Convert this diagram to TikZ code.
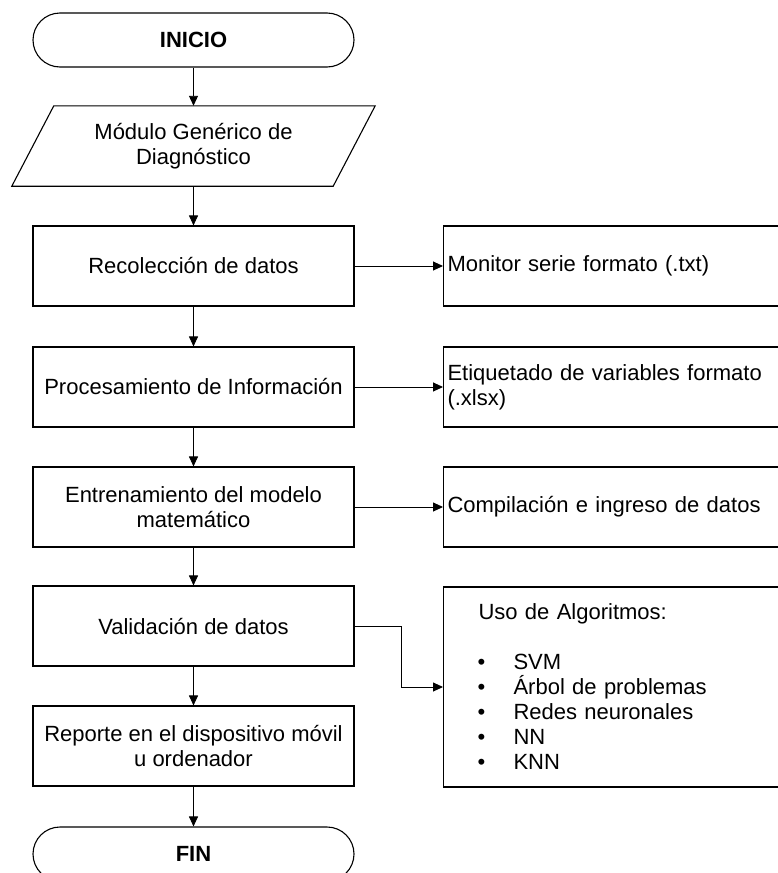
\documentclass[tikz,border=0pt]{standalone}
\usepackage{fontspec}
\setmainfont{Liberation Sans}
\usetikzlibrary{arrows.meta}

\begin{document}
\begin{tikzpicture}[
  x=1pt, y=-1pt,
  font=\fontsize{22pt}{25pt}\selectfont,
  proc/.style={draw, line width=1.1pt, minimum width=321pt, minimum height=80pt,
    align=center, inner sep=2pt},
  term/.style={proc, minimum height=54pt, rounded corners=27pt, font=\fontsize{22pt}{25pt}\selectfont\bfseries},
  io/.style={minimum width=321pt, minimum height=80pt, align=center, inner sep=2pt},
  side/.style={draw, line width=1.1pt, anchor=west, minimum height=80pt,
    text width=336pt, inner xsep=4pt, align=left},
  arr/.style={line width=0.9pt, -{Triangle[length=10pt, width=9pt]}}
]
\useasboundingbox (0,0) rectangle (778,873);
\clip (0,0) rectangle (778,873);

% flujo principal
\node[term] (ini) at (193.5,40) {INICIO};
\node[io] (mod) at (193.5,146) {Módulo Genérico de\\ Diagnóstico};
\draw[line width=1.1pt] ([xshift=21pt]mod.north west) -- ([xshift=21pt]mod.north east)
  -- ([xshift=-21pt]mod.south east) -- ([xshift=-21pt]mod.south west) -- cycle;
\node[proc] (rec) at (193.5,266) {Recolección de datos};
\node[proc] (pro) at (193.5,387) {Procesamiento de Información};
\node[proc] (ent) at (193.5,507) {Entrenamiento del modelo\\ matemático};
\node[proc] (val) at (193.5,626) {Validación de datos};
\node[proc] (rep) at (193.5,746) {Reporte en el dispositivo móvil\\ u ordenador};
\node[term] (fin) at (193.5,854) {FIN};

% salidas
\node[side] (mon) at (443,266) {Monitor serie formato (.txt)};
\node[side] (eti) at (443,387) {Etiquetado de variables formato\\ (.xlsx)};
\node[side] (com) at (443,507) {Compilación e ingreso de datos};
\node[side, minimum height=200pt] (alg) at (443,687)
  {\hspace*{31pt}Uso de Algoritmos:\\
   \mbox{}\\
   \hspace*{30pt}\makebox[36pt][l]{\textbullet}SVM\\
   \hspace*{30pt}\makebox[36pt][l]{\textbullet}Árbol de problemas\\
   \hspace*{30pt}\makebox[36pt][l]{\textbullet}Redes neuronales\\
   \hspace*{30pt}\makebox[36pt][l]{\textbullet}NN\\
   \hspace*{30pt}\makebox[36pt][l]{\textbullet}KNN};

\draw[arr] (ini) -- (mod);
\draw[arr] (mod) -- (rec);
\draw[arr] (rec) -- (pro);
\draw[arr] (pro) -- (ent);
\draw[arr] (ent) -- (val);
\draw[arr] (val) -- (rep);
\draw[arr] (rep) -- (fin);
\draw[arr] (rec.east) -- (mon.west);
\draw[arr] (pro.east) -- (eti.west);
\draw[arr] (ent.east) -- (com.west);
\draw[arr] (val.east) -- ++(47,0) |- (alg.west);
\end{tikzpicture}
\end{document}
